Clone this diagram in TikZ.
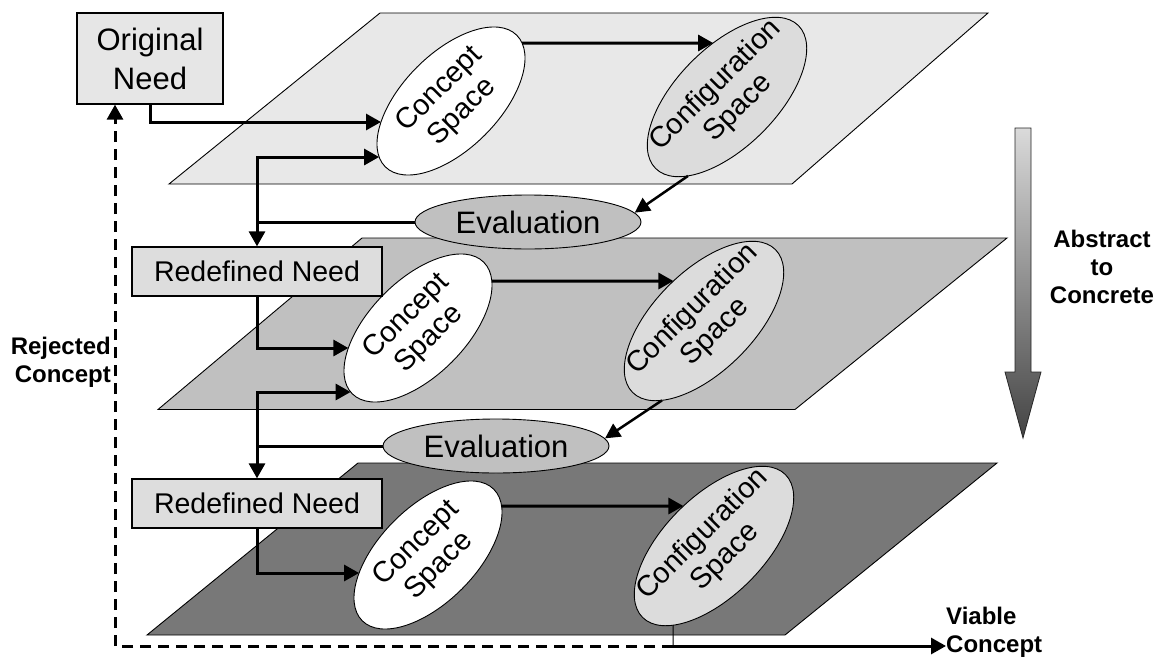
\documentclass[tikz,border=0pt]{standalone}
\usepackage{fontspec}
\setmainfont{Liberation Sans}
\usetikzlibrary{arrows.meta,intersections,shapes.geometric}

\definecolor{planeA}{HTML}{E8E8E8}
\definecolor{planeB}{HTML}{C0C0C0}
\definecolor{planeC}{HTML}{787878}
\definecolor{needfill}{HTML}{E6E6E6}
\definecolor{redeffill}{HTML}{DDDDDD}
\definecolor{evalfill}{HTML}{C0C0C0}
\definecolor{cfgfill}{HTML}{DCDCDC}
\definecolor{shaftTop}{HTML}{DADADA}
\definecolor{shaftBot}{HTML}{444444}

% horizontal ray at y=#2 meets path #1; crossing number #4 (from the left) is stored as #3
\newcommand\hhit[4]{%
  \path[name path=ray] (-10,#2) -- (1200,#2);
  \path[name intersections={of=ray and #1, sort by=ray, name=hx}];
  \coordinate (#3) at (hx-#4);
}
% vertical ray at x=#2 meets path #1; the lower crossing is stored as #3
\newcommand\vhit[3]{%
  \path[name path=ray] (#2,-10) -- (#2,700);
  \path[name intersections={of=ray and #1, sort by=ray, name=vx}];
  \coordinate (#3) at (vx-2);
}

\begin{document}
\begin{tikzpicture}[x=1pt,y=-1pt,
  plane/.style={draw=black, line width=0.9pt, line join=miter},
  needbox/.style={draw=black, line width=1.3pt, fill=needfill, align=center,
    minimum width=146pt, minimum height=91pt, inner sep=0pt,
    font=\fontsize{31}{39}\selectfont},
  redefbox/.style={draw=black, line width=1.3pt, fill=redeffill,
    minimum width=250pt, minimum height=49pt, inner sep=0pt,
    font=\fontsize{28.5}{32}\selectfont},
  evalnode/.style={ellipse, draw=black, line width=0.9pt, fill=evalfill,
    minimum width=226pt, minimum height=54pt, inner sep=0pt,
    font=\fontsize{31}{36}\selectfont},
  spaceline/.style={draw=black, line width=0.9pt},
  spacetext/.style={rotate=45, align=center, inner sep=0pt,
    font=\fontsize{29}{32}\selectfont},
  boldlabel/.style={inner sep=0pt, font=\bfseries\fontsize{24}{28}\selectfont},
  conn/.style={line width=3pt, -{Triangle[length=15pt,width=16pt]}},
  diag/.style={line width=2.5pt, -{Triangle[length=15pt,width=15pt]}},
  rejected/.style={line width=3pt, dash pattern=on 11pt off 7pt,
    -{Triangle[length=15pt,width=16pt]}},
]
\useasboundingbox (0,0) rectangle (1162,659);

% the three design planes
\draw[plane, fill=planeA] (380,13) -- (988,13) -- (792,184) -- (169,184) -- cycle;
\draw[plane, fill=planeB] (362,238) -- (1007,238) -- (795,409.5) -- (158,409.5) -- cycle;
\draw[plane, fill=planeC] (358,463) -- (997,463) -- (785,635) -- (147,635) -- cycle;

% concept and configuration spaces on each plane
\filldraw[spaceline, fill=white, name path=cs1p, rotate around={45:(451,101)}]
  (451,101) ellipse [x radius=93, y radius=48];
\filldraw[spaceline, fill=cfgfill, name path=cf1p, rotate around={45:(727,97)}]
  (727,97) ellipse [x radius=101, y radius=50];
\filldraw[spaceline, fill=white, name path=cs2p, rotate around={45:(418,328)}]
  (418,328) ellipse [x radius=93, y radius=48];
\filldraw[spaceline, fill=cfgfill, name path=cf2p, rotate around={45:(704,321)}]
  (704,321) ellipse [x radius=101, y radius=50];
\filldraw[spaceline, fill=white, name path=cs3p, rotate around={45:(428,555)}]
  (428,555) ellipse [x radius=93, y radius=48];
\filldraw[spaceline, fill=cfgfill, name path=cf3p, rotate around={45:(714,546)}]
  (714,546) ellipse [x radius=101, y radius=50];

\node[spacetext] (cs1) at (451,101) {Concept\\Space};
\node[spacetext] (cf1) at (727,97) {Configuration\\Space};
\node[spacetext] (cs2) at (418,328) {Concept\\Space};
\node[spacetext] (cf2) at (704,321) {Configuration\\Space};
\node[spacetext] (cs3) at (428,555) {Concept\\Space};
\node[spacetext] (cf3) at (714,546) {Configuration\\Space};

% needs and evaluations
\node[needbox] (on) at (150,58.5) {Original\\Need};
\node[redefbox] (rn1) at (257,271.5) {Redefined Need};
\node[redefbox] (rn2) at (257,503.5) {Redefined Need};
\node[evalnode] (ev1) at (528,222) {Evaluation};
\node[evalnode] (ev2) at (496,446) {Evaluation};

% side labels
\node[boldlabel, align=right, anchor=east] (rc) at (111,362) {Rejected\\Concept};
\node[boldlabel, align=left, anchor=west] (vc) at (946,632) {Viable\\Concept};
\node[boldlabel, align=center] (ac) at (1102,267) {Abstract\\to\\Concrete};

% abstraction arrow
\shadedraw[draw=black!85, line width=0.8pt, top color=shaftTop, bottom color=shaftBot]
  (1015,128) -- (1031,128) -- (1031,372) -- (1041,372) -- (1023,438)
  -- (1005,372) -- (1015,372) -- cycle;

% crossing points on the space outlines
\hhit{cs1p}{122}{a1}{1}
\hhit{cs1p}{157}{a3}{1}
\hhit{cs1p}{43}{s4}{2}
\hhit{cf1p}{43}{a4}{1}
\vhit{cf1p}{688}{f5}
\hhit{cs2p}{348}{a6}{1}
\hhit{cs2p}{392}{a8}{1}
\hhit{cs2p}{281}{s9}{2}
\hhit{cf2p}{281}{a9}{1}
\vhit{cf2p}{662}{f10}
\hhit{cs3p}{573}{a11}{1}
\hhit{cs3p}{506}{s12}{2}
\hhit{cf3p}{506}{a12}{1}
\vhit{cf3p}{673}{f13}
\coordinate (j3) at (673,646);

% top plane flow
\draw[conn] (on.south) |- (a1);
\draw[conn] (s4) -- (a4);
\draw[diag] (f5) -- (ev1.5);
\draw[conn] (ev1.west) -| (rn1.north);
\draw[conn] (rn1.north |- ev1.west) |- (a3);

% middle plane flow
\draw[conn] (rn1.south) |- (a6);
\draw[conn] (s9) -- (a9);
\draw[diag] (f10) -- (ev2.4);
\draw[conn] (ev2.west) -| (rn2.north);
\draw[conn] (rn2.north |- ev2.west) |- (a8);

% bottom plane flow
\draw[conn] (rn2.south) |- (a11);
\draw[conn] (s12) -- (a12);
\draw[line width=1pt] (f13) -- (j3);
\draw[conn] (j3) -- (j3 -| vc.west);
\draw[rejected] (j3) -| ([xshift=-35pt]on.south);
\end{tikzpicture}
\end{document}
